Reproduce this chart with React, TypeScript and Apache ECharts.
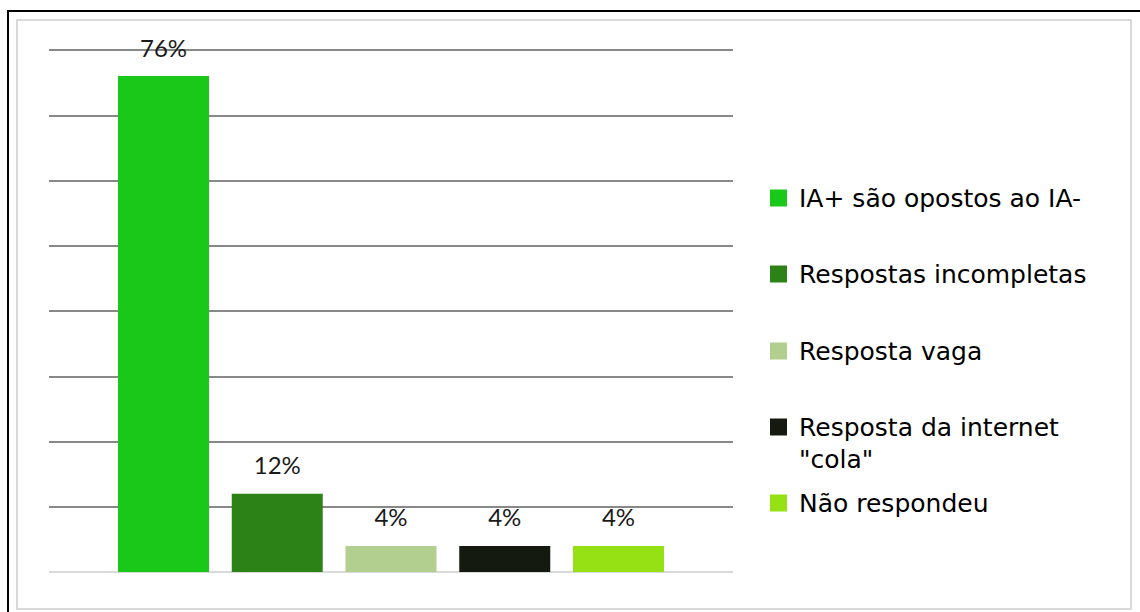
import React, { useEffect, useRef } from "react";
import * as echarts from "echarts";

const seriesNames = [
  "IA+ são opostos ao IA-",
  "Respostas incompletas",
  "Resposta vaga",
  "Resposta da internet \"cola\"",
  "Não respondeu",
];
const legendLines = [
  ["IA+ são opostos ao IA-"],
  ["Respostas incompletas"],
  ["Resposta vaga"],
  ["Resposta da internet", "\"cola\""],
  ["Não respondeu"],
];
const seriesValues = [76, 12, 4, 4, 4];
const seriesColors = ["#19C819", "#2D8217", "#B3CF8F", "#141A0F", "#95E114"];
const categories = [""];
const legendCenters = [198, 274, 351, 427, 503];

export default function App() {
  const ref = useRef<HTMLDivElement>(null);
  useEffect(() => {
    if (!ref.current) return;
    const chart = echarts.init(ref.current, null, { renderer: "svg" });
    const series = seriesNames.map((name, i) => ({
      name,
      type: "bar",
      data: [seriesValues[i]],
      barWidth: 91,
      barGap: "25%",
      itemStyle: { color: seriesColors[i] },
      label: {
        show: true,
        position: "top",
        distance: 17,
        formatter: "{c}%",
        color: "#1a1a1a",
        fontFamily: "Lato",
        fontSize: 24,
      },
    }));
    const legends = seriesNames.map((name, i) => ({
      data: [name],
      orient: "vertical",
      left: 770,
      top: legendCenters[i] - 16,
      padding: 0,
      itemWidth: 17,
      itemHeight: 17,
      icon: "rect",
      selectedMode: false,
      formatter: () => legendLines[i][0],
      textStyle: {
        fontFamily: "DejaVu Sans",
        fontSize: 25,
        color: "#000",
        lineHeight: 32,
        padding: [0, 0, 0, 7],
      },
    }));
    const extraLines: any[] = [];
    legendLines.forEach((lines, i) => {
      lines.slice(1).forEach((t, j) => {
        extraLines.push({
          type: "text",
          x: 799,
          y: legendCenters[i] + 32 * (j + 1),
          silent: true,
          style: {
            text: t,
            fontFamily: "DejaVu Sans",
            fontSize: 25,
            fill: "#000",
            verticalAlign: "middle",
            align: "left",
          },
        });
      });
    });
    chart.setOption({
      animation: false,
      backgroundColor: "#fff",
      grid: { left: 49, right: 407, top: 50, bottom: 40 },
      xAxis: {
        type: "category",
        data: categories,
        axisLine: { show: false },
        axisTick: { show: false },
        axisLabel: { show: false },
      },
      yAxis: {
        type: "value",
        min: 0,
        max: 80,
        interval: 10,
        axisLabel: { show: false },
        axisLine: { show: false },
        axisTick: { show: false },
        splitLine: {
          show: true,
          lineStyle: {
            width: 2,
            color: ["#d9d9d9", "#888", "#888", "#888", "#888", "#888", "#888", "#888", "#888"],
          },
        },
      },
      legend: legends,
      series,
      graphic: [
        {
          type: "rect",
          shape: { x: 8, y: 11, width: 1160, height: 640 },
          style: { fill: "none", stroke: "#000", lineWidth: 2 },
          silent: true,
        },
        {
          type: "rect",
          shape: { x: 17, y: 20, width: 1114, height: 589 },
          style: { fill: "none", stroke: "#d9d9d9", lineWidth: 2 },
          silent: true,
        },
        ...extraLines,
      ],
    });
    return () => chart.dispose();
  }, []);
  return (
    <div
      ref={ref}
      style={{ position: "absolute", left: 0, top: 0, width: 1140, height: 612 }}
    />
  );
}
